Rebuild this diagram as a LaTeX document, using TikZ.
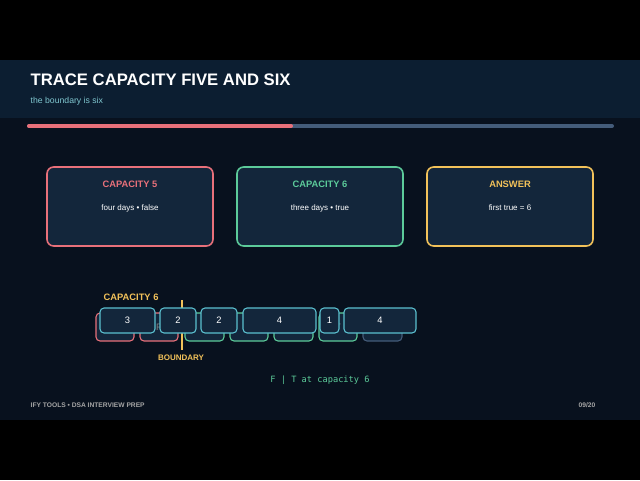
\documentclass[tikz,border=0pt]{standalone}
\usepackage{fontspec}
\setmainfont{Liberation Sans}
\setmonofont{DejaVu Sans Mono}
\definecolor{bgc}{HTML}{08111E}
\definecolor{bandc}{HTML}{0C1E31}
\definecolor{cardc}{HTML}{13263B}
\definecolor{redc}{HTML}{E8707A}
\definecolor{greenc}{HTML}{5CCB9A}
\definecolor{yellowc}{HTML}{F2C25A}
\definecolor{cyanc}{HTML}{5BC0D0}
\definecolor{slatec}{HTML}{445C7A}
\definecolor{subc}{HTML}{7FC6CF}
\tikzset{
  card/.style={draw=#1, line width=1.2pt, rounded corners=5pt, fill=cardc},
  cell/.style={draw=cyanc, line width=0.8pt, rounded corners=3pt, fill=cardc, text=white, font=\fontsize{7}{8}\selectfont},
  back/.style={draw=#1, line width=0.8pt, rounded corners=3pt, fill=cardc, text=gray, font=\fontsize{7}{8}\selectfont}
}
\begin{document}
\begin{tikzpicture}[x=0.75pt, y=-0.75pt]
    % Frame
    \fill[black] (0,0) rectangle (640,480);
    \fill[bgc] (0,60) rectangle (640,420);
    \fill[bandc] (0,60) rectangle (640,118);
    \useasboundingbox (0,0) rectangle (640,480);
    
    % Header
    \node[anchor=west, text=white, font=\bfseries\fontsize{12.5}{14}\selectfont] (title) at (26,80) {TRACE CAPACITY FIVE AND SIX};
    \node[anchor=west, text=subc, font=\fontsize{6.5}{8}\selectfont] (sub) at (26,101) {the boundary is six};
    
    % Progress
    \draw[slatec, line width=3pt, line cap=round] (29,126) -- (612,126);
    \draw[redc, line width=3pt, line cap=round] (29,126) -- (291,126);
    
    % Cards
    \draw[card=redc] (47,167) rectangle (213,246);
    \draw[card=greenc] (237,167) rectangle (403,246);
    \draw[card=yellowc] (427,167) rectangle (593,246);
    \node[text=redc, font=\bfseries\fontsize{7}{8}\selectfont] (c5) at (130,184) {CAPACITY 5};
    \node[text=white, font=\fontsize{6}{7}\selectfont] (c5b) at (130,208) {four days • false};
    \node[text=greenc, font=\bfseries\fontsize{7}{8}\selectfont] (c6) at (320,184) {CAPACITY 6};
    \node[text=white, font=\fontsize{6}{7}\selectfont] (c6b) at (320,208) {three days • true};
    \node[text=yellowc, font=\bfseries\fontsize{7}{8}\selectfont] (ans) at (510,184) {ANSWER};
    \node[text=white, font=\fontsize{6}{7}\selectfont] (ansb) at (510,208) {first true = 6};
    
    % Day markers behind
    \draw[back=redc] (96,313) rectangle (134,341);
    \draw[back=redc] (140,313) rectangle (178,341) node[midway] {F};
    \draw[back=greenc] (185,313) rectangle (224,341);
    \draw[back=greenc] (230,313) rectangle (268,341);
    \draw[back=greenc] (274,313) rectangle (313,341);
    \draw[back=greenc] (319,313) rectangle (357,341) node[midway] {T};
    \draw[back=slatec] (363,313) rectangle (402,341);
    
    % Packages
    \node[text=yellowc, anchor=west, font=\bfseries\fontsize{7}{8}\selectfont] (lab) at (99,297) {CAPACITY 6};
    \draw[cell] (100,308) rectangle (155,333) node[midway] {3};
    \draw[yellowc, line width=1.2pt] (182,300) -- (182,350);
    \draw[cell] (160,308) rectangle (196,333) node[midway] {2};
    \draw[cell] (201,308) rectangle (237,333) node[midway] {2};
    \draw[cell] (243,308) rectangle (316,333) node[midway] {4};
    \draw[cell] (320,308) rectangle (339,333) node[midway] {1};
    \draw[cell] (344,308) rectangle (416,333) node[midway] {4};
    \node[text=yellowc, font=\bfseries\fontsize{6}{7}\selectfont] (bnd) at (181,358) {BOUNDARY};
    \node[text=greenc, font=\ttfamily\fontsize{6.5}{8}\selectfont] (note) at (320,380) {F | T at capacity 6};
    
    % Footer
    \node[anchor=west, text=gray!70, font=\bfseries\fontsize{5}{6}\selectfont] (foot) at (26,405) {IFY TOOLS • DSA INTERVIEW PREP};
    \node[anchor=east, text=gray!70, font=\bfseries\fontsize{5}{6}\selectfont] (page) at (600,405) {09/20};
\end{tikzpicture}
\end{document}
